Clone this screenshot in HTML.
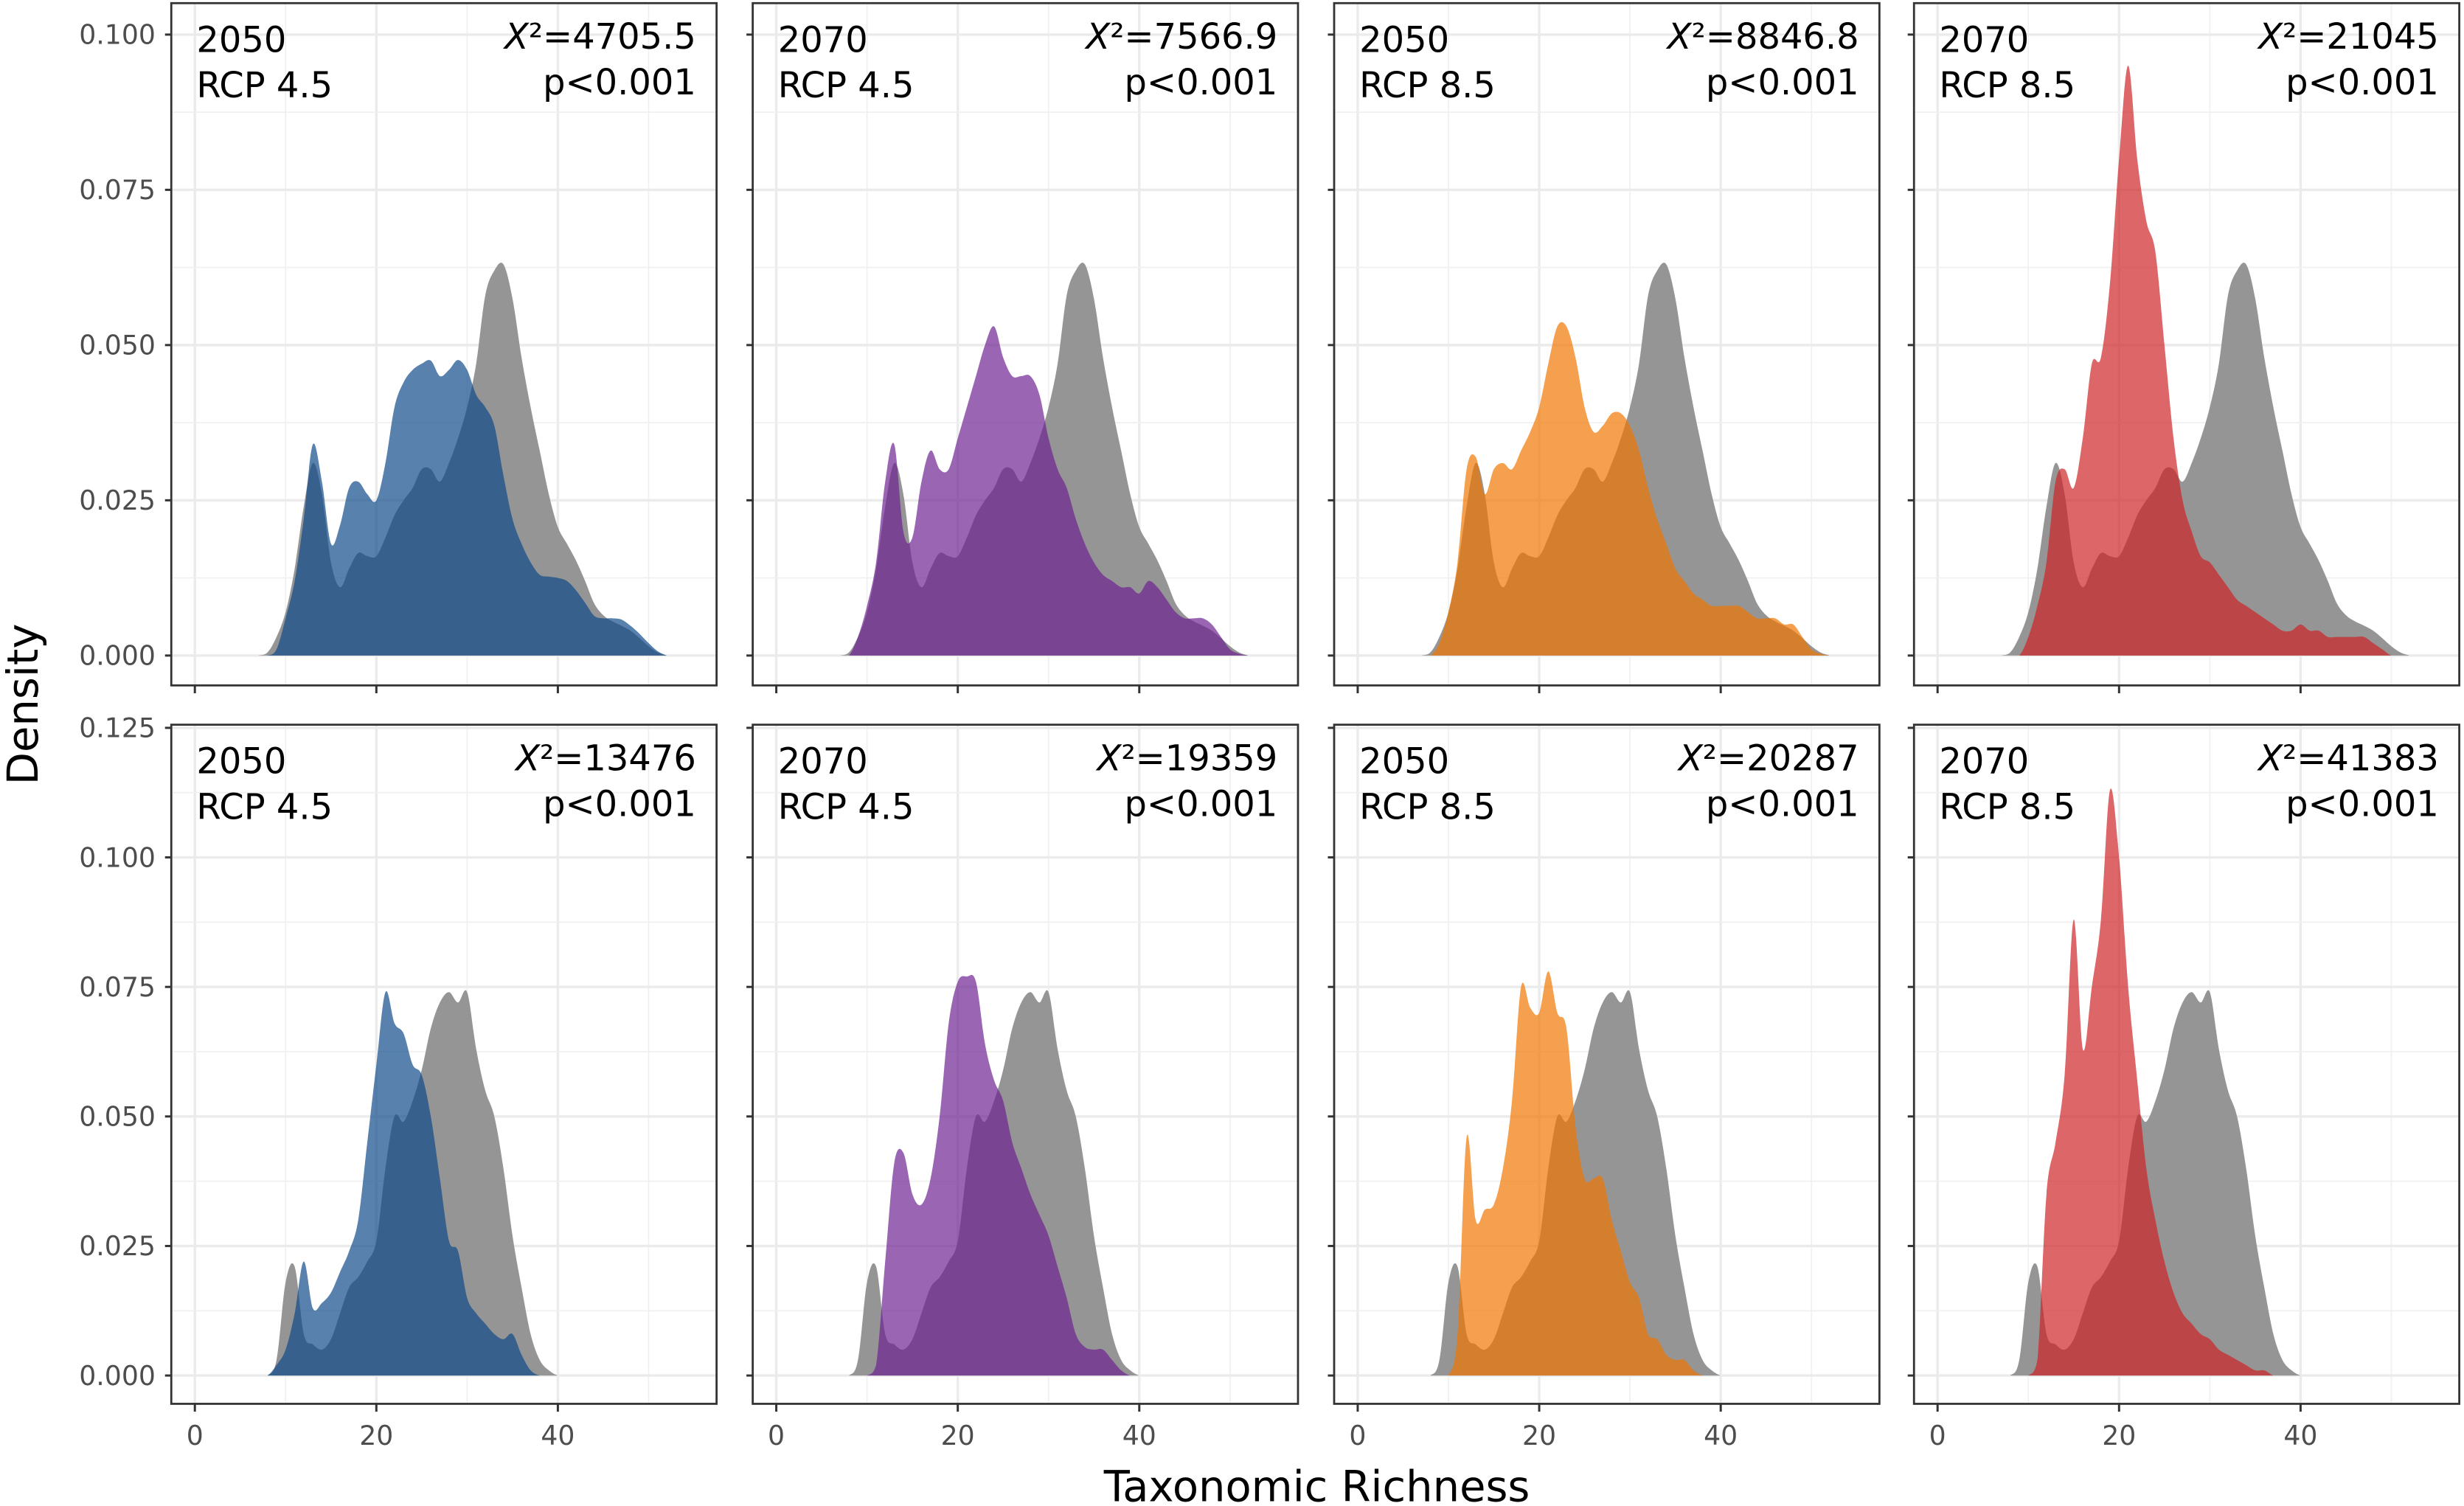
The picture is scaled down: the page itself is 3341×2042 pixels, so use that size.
<!DOCTYPE html>
<html><head><meta charset="utf-8">
<style>
html,body{margin:0;padding:0;background:#fff;}
svg{display:block;}
text{font-family:"DejaVu Sans","Liberation Sans",sans-serif;}
</style></head>
<body>
<svg id="chart" width="3341" height="2042" viewBox="0 0 1568 958" preserveAspectRatio="none" xmlns="http://www.w3.org/2000/svg">
<rect x="0" y="0" width="1568" height="958" fill="#fff"/>
<text x="0" y="0" transform="translate(24,448) rotate(-90)" text-anchor="middle" font-size="27" fill="#000">Density</text>
<text x="838" y="955" text-anchor="middle" font-size="27" fill="#000">Taxonomic Richness</text>
</svg>
<script>
const row1X = [7,8,9,10,11,12,13,14,15,16,17,18,19,20,21,22,23,24,25,26,27,28,29,30,31,32,33,34,35,36,37,38,39,40,41,42,43,44,45,46,47,48,49,50,51,52];
const row2X = [7,8,9,10,11,12,13,14,15,16,17,18,19,20,21,22,23,24,25,26,27,28,29,30,31,32,33,34,35,36,37,38,39,40,41,42];
const grayRow1 = [0,0.0005,0.003,0.007,0.014,0.024,0.031,0.026,0.015,0.011,0.014,0.0165,0.016,0.016,0.019,0.0226,0.025,0.027,0.030,0.030,0.028,0.031,0.035,0.040,0.047,0.058,0.062,0.063,0.0575,0.048,0.040,0.033,0.026,0.0207,0.018,0.0153,0.012,0.0084,0.0065,0.0055,0.0048,0.004,0.0028,0.0015,0.0005,0];
const blue2050r45 = [0,0,0.001,0.006,0.012,0.022,0.034,0.028,0.018,0.021,0.027,0.028,0.026,0.025,0.031,0.040,0.044,0.046,0.047,0.0475,0.045,0.046,0.0476,0.046,0.042,0.040,0.037,0.029,0.022,0.018,0.015,0.013,0.0127,0.0125,0.012,0.0105,0.0085,0.0064,0.006,0.006,0.0058,0.0048,0.0035,0.002,0.0007,0];
const purple2070r45 = [0,0,0.003,0.008,0.015,0.028,0.034,0.02,0.019,0.028,0.033,0.03,0.03,0.035,0.04,0.045,0.05,0.053,0.048,0.045,0.045,0.045,0.042,0.035,0.03,0.027,0.022,0.018,0.015,0.013,0.012,0.011,0.011,0.01,0.012,0.011,0.009,0.007,0.006,0.006,0.006,0.005,0.003,0.001,0.0003,0];
const orange2050r85 = [0,0,0.002,0.007,0.015,0.03,0.032,0.026,0.03,0.031,0.03,0.033,0.036,0.04,0.047,0.053,0.053,0.048,0.04,0.036,0.037,0.039,0.039,0.037,0.033,0.027,0.022,0.018,0.014,0.012,0.01,0.009,0.008,0.008,0.008,0.008,0.007,0.006,0.006,0.006,0.005,0.005,0.003,0.001,0.0003,0];
const red2070r85 = [0,0,0,0.003,0.008,0.015,0.028,0.03,0.027,0.035,0.047,0.048,0.06,0.08,0.095,0.08,0.07,0.065,0.05,0.035,0.025,0.02,0.016,0.015,0.013,0.011,0.009,0.008,0.007,0.006,0.005,0.004,0.004,0.005,0.004,0.004,0.003,0.003,0.003,0.003,0.003,0.002,0.001,0,0,0];
const grayRow2 = [0,0,0.003,0.018,0.021,0.008,0.006,0.005,0.007,0.012,0.017,0.019,0.022,0.026,0.04,0.05,0.049,0.053,0.059,0.067,0.072,0.074,0.072,0.074,0.063,0.055,0.05,0.04,0.027,0.017,0.008,0.003,0.001,0,0,0];
const blue2050b = [0,0,0.002,0.005,0.012,0.022,0.013,0.014,0.016,0.02,0.024,0.03,0.045,0.06,0.074,0.068,0.066,0.06,0.058,0.05,0.038,0.026,0.024,0.015,0.012,0.01,0.008,0.007,0.008,0.004,0.001,0,0,0,0,0];
const purple2070b = [0,0,0,0,0.002,0.022,0.041,0.043,0.035,0.033,0.038,0.05,0.068,0.076,0.077,0.076,0.064,0.057,0.053,0.045,0.04,0.035,0.031,0.027,0.021,0.015,0.008,0.0055,0.005,0.005,0.003,0.001,0,0,0,0];
const orange2050b = [0,0,0,0,0.008,0.046,0.03,0.032,0.033,0.04,0.053,0.075,0.071,0.07,0.078,0.07,0.067,0.048,0.038,0.038,0.038,0.03,0.024,0.018,0.015,0.008,0.007,0.004,0.003,0.003,0.001,0,0,0,0,0];
const red2070b = [0,0,0,0,0.003,0.035,0.045,0.058,0.088,0.063,0.075,0.088,0.113,0.1,0.075,0.057,0.04,0.03,0.022,0.016,0.012,0.01,0.008,0.007,0.005,0.004,0.003,0.002,0.001,0.001,0,0,0,0,0,0];
const xTicks = [0,20,40];
const yTicksRow1 = ["0.000","0.025","0.050","0.075","0.100"];
const yTicksRow2 = ["0.000","0.025","0.050","0.075","0.100","0.125"];
const years = ["2050","2070","2050","2070"];
const rcps = ["RCP 4.5","RCP 4.5","RCP 8.5","RCP 8.5"];
const chiRow1 = ["4705.5","7566.9","8846.8","21045"];
const chiRow2 = ["13476","19359","20287","41383"];

const NS = "http://www.w3.org/2000/svg";
const svg = document.getElementById('chart');
const colors = ["rgba(13,72,136,0.69)","rgba(109,32,145,0.69)","rgba(240,117,0,0.69)","rgba(206,35,36,0.69)"];
const panelLefts = [109,479,849,1218];
const panelW = 347;
const rows = [
  {top:2,bottom:436,zero:417,scale:3950,ticks:yTicksRow1,xs:row1X,gray:grayRow1,series:[blue2050r45,purple2070r45,orange2050r85,red2070r85],chi:chiRow1,name:'top'},
  {top:461,bottom:893,zero:875,scale:3296,ticks:yTicksRow2,xs:row2X,gray:grayRow2,series:[blue2050b,purple2070b,orange2050b,red2070b],chi:chiRow2,name:'bottom'}
];
function mk(tag, attrs, parent){const e=document.createElementNS(NS,tag);for(const k in attrs)e.setAttribute(k,attrs[k]);(parent||svg).appendChild(e);return e;}
function areaPath(xs, ys, sx, sy, base){
  const pts = xs.map((x,i)=>[sx(x), sy(ys[i])]);
  let d = `M${pts[0][0]},${base} L${pts[0][0]},${pts[0][1]}`;
  for(let i=0;i<pts.length-1;i++){
    const p0=pts[Math.max(0,i-1)],p1=pts[i],p2=pts[i+1],p3=pts[Math.min(pts.length-1,i+2)];
    const c1x=p1[0]+(p2[0]-p0[0])/6, c1y=Math.min(base,p1[1]+(p2[1]-p0[1])/6);
    const c2x=p2[0]-(p3[0]-p1[0])/6, c2y=Math.min(base,p2[1]-(p3[1]-p1[1])/6);
    d += ` C${c1x},${c1y} ${c2x},${c2y} ${p2[0]},${p2[1]}`;
  }
  d += ` L${pts[pts.length-1][0]},${base} Z`;
  return d;
}
rows.forEach((r,ri)=>{
  panelLefts.forEach((left,pi)=>{
    const g = mk('g',{});
    
    
    const sx = v => left + 15 + v*5.775;
    const sy = v => r.zero - v*r.scale;
    [10,30,50].forEach(v=>{const l=mk('line',{x1:sx(v),x2:sx(v),y1:r.top,y2:r.bottom,stroke:'#f0f0f0','stroke-width':0.8},g);});
    xTicks.forEach(v=>{const l=mk('line',{x1:sx(v),x2:sx(v),y1:r.top,y2:r.bottom,stroke:'#ebebeb','stroke-width':1.6},g);});
    r.ticks.forEach((t,ti)=>{
      const v=parseFloat(t);
      if(ti<r.ticks.length-1){const vm=v+0.0125;const l=mk('line',{x1:left,x2:left+panelW,y1:sy(vm),y2:sy(vm),stroke:'#f0f0f0','stroke-width':0.8},g);}
      const l=mk('line',{x1:left,x2:left+panelW,y1:sy(v),y2:sy(v),stroke:'#ebebeb','stroke-width':1.6},g);
      
      const tk=mk('line',{x1:left-4,x2:left,y1:sy(v),y2:sy(v),stroke:'#333','stroke-width':1.4},g);
      
      if(pi===0){const tx=mk('text',{x:left-10,y:sy(v)+6,'text-anchor':'end','font-size':17,fill:'#4d4d4d'},g);tx.textContent=t;}
    });
    const gp=mk('path',{d:areaPath(r.xs,r.gray,sx,sy,r.zero),fill:'#959595'},g);
    
    const cp=mk('path',{d:areaPath(r.xs,r.series[pi],sx,sy,r.zero),fill:colors[pi]},g);
    
    const b=mk('rect',{x:left,y:r.top,width:panelW,height:r.bottom-r.top,fill:'none',stroke:'#333','stroke-width':1.3},g);
    
    xTicks.forEach(v=>{
      const tk=mk('line',{x1:sx(v),x2:sx(v),y1:r.bottom,y2:r.bottom+5,stroke:'#333','stroke-width':1.4},g);
      
      if(ri===1){const tx=mk('text',{x:sx(v),y:r.bottom+26,'text-anchor':'middle','font-size':17,fill:'#4d4d4d'},g);tx.textContent=String(v);}
    });
    const t1=mk('text',{x:left+16,y:r.top+31,'font-size':22.5,fill:'#000'},g);t1.textContent=years[pi];
    
    const t2=mk('text',{x:left+16,y:r.top+60,'font-size':22.5,fill:'#000'},g);t2.textContent=rcps[pi];
    
    const t3=mk('text',{x:left+panelW-13,y:r.top+29,'font-size':22.5,fill:'#000','text-anchor':'end'},g);
    t3.innerHTML='<tspan font-style="italic">X</tspan>²='+r.chi[pi];
    
    const t4=mk('text',{x:left+panelW-13,y:r.top+58,'font-size':22.5,fill:'#000','text-anchor':'end'},g);t4.textContent='p<0.001';
    
  });
});
</script>
</body></html>
